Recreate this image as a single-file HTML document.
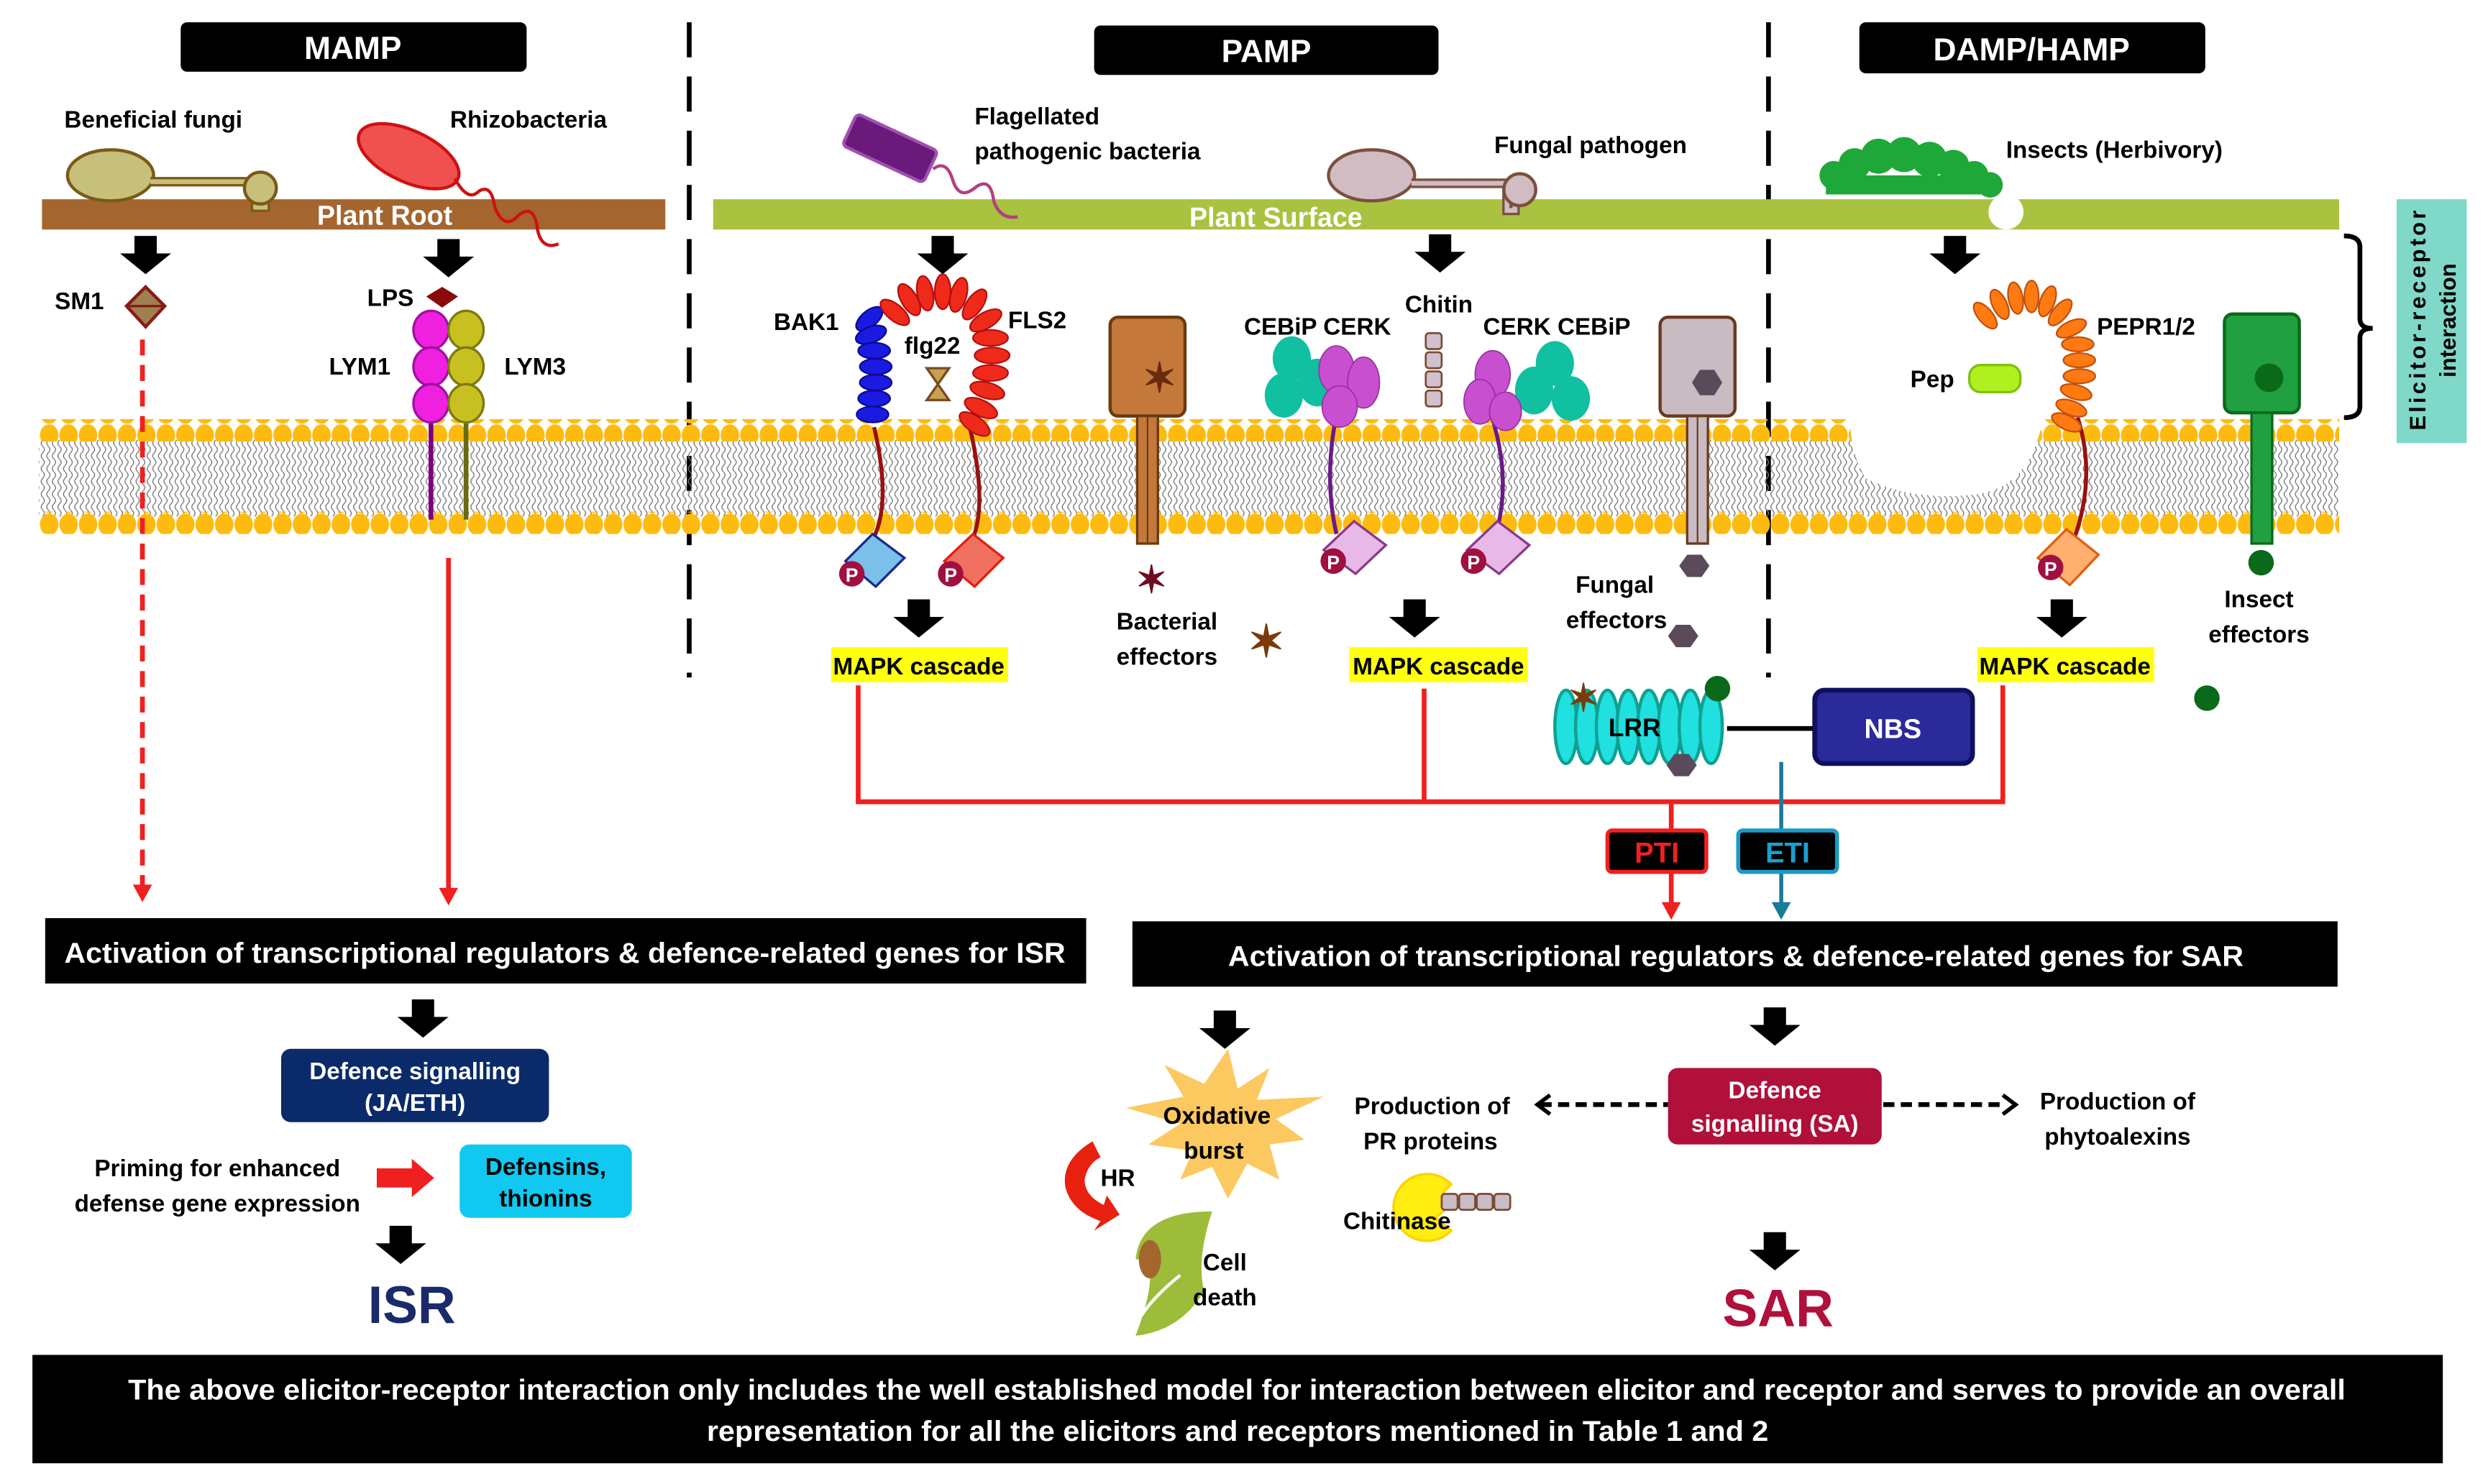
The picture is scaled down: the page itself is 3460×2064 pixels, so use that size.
<!DOCTYPE html>
<html><head><meta charset="utf-8"><style>
html,body{margin:0;padding:0;background:#fff;}
svg{display:block;}
text{font-family:"Liberation Sans",sans-serif;font-weight:bold;}
</style></head><body>
<svg width="3460" height="2064" viewBox="0 0 1560 931" xmlns="http://www.w3.org/2000/svg">
<defs>
<path id="ar" d="M-7,0 h14 v11 h9 l-16,13 l-16,-13 h9 z" fill="#000"/>
<pattern id="wv" x="0" y="0" width="7" height="8" patternUnits="userSpaceOnUse">
<path d="M2,0 q2,2 0,4 q-2,2 0,4" stroke="#777" stroke-width="0.6" fill="none"/>
<path d="M5.5,0 q2,2 0,4 q-2,2 0,4" stroke="#777" stroke-width="0.6" fill="none"/>
</pattern>
<pattern id="bd" x="0" y="0" width="12.2" height="14" patternUnits="userSpaceOnUse">
<ellipse cx="6.1" cy="7" rx="5.8" ry="6.8" fill="#fdbb10"/>
</pattern>
</defs>

<rect x="113" y="14" width="217" height="31" rx="4" fill="#000"/>
<text x="221" y="37" fill="#fff" font-size="20" text-anchor="middle">MAMP</text>
<rect x="686" y="16" width="216" height="31" rx="4" fill="#000"/>
<text x="794" y="39" fill="#fff" font-size="20" text-anchor="middle">PAMP</text>
<rect x="1166" y="14" width="217" height="32" rx="4" fill="#000"/>
<text x="1274" y="38" fill="#fff" font-size="20" text-anchor="middle">DAMP/HAMP</text>

<line x1="432" y1="14" x2="432" y2="425" stroke="#000" stroke-width="3" stroke-dasharray="22,12"/>
<line x1="1109" y1="14" x2="1109" y2="425" stroke="#000" stroke-width="3" stroke-dasharray="22,12"/>

<rect x="24" y="276" width="1443" height="48" fill="url(#wv)"/>
<rect x="24" y="263" width="1443" height="14" fill="url(#bd)"/>
<rect x="24" y="321" width="1443" height="14" fill="url(#bd)"/>
<path d="M1160,258 L1282,258 Q1275,305 1240,310 Q1200,315 1170,300 Q1160,285 1160,258 Z" fill="#fff"/>

<rect x="26" y="125" width="391" height="19" fill="#a5652f"/>
<text x="241" y="141" fill="#fff" font-size="17" text-anchor="middle">Plant Root</text>
<rect x="447" y="125" width="1020" height="19" fill="#a9c23f"/>
<text x="800" y="142" fill="#fff" font-size="17" text-anchor="middle">Plant Surface</text>

<ellipse cx="69" cy="110" rx="27" ry="16" fill="#c6c07a" stroke="#7a5a18" stroke-width="2"/>
<path d="M94,114 H160 V130 H166 V114" fill="none" stroke="#7a5a18" stroke-width="6"/>
<path d="M94,114 H160 V130 H166 V114" fill="none" stroke="#c6c07a" stroke-width="3"/>
<circle cx="163" cy="118" r="10" fill="#c6c07a" stroke="#7a5a18" stroke-width="2"/>
<ellipse cx="256" cy="98" rx="34" ry="16" transform="rotate(25 256 98)" fill="#f05050" stroke="#d01010" stroke-width="2"/>
<path d="M285,112 q8,15 15,8 q8,-5 10,10 q6,15 15,5 q10,-8 12,10 q3,12 13,8" fill="none" stroke="#d01010" stroke-width="2"/>
<rect x="530" y="82" width="56" height="22" rx="3" transform="rotate(25 558 93)" fill="#6a1a7a" stroke="#a050b0" stroke-width="2"/>
<path d="M585,106 q8,-6 12,6 q4,14 14,6 q10,-8 12,8 q4,12 15,10" fill="none" stroke="#b04080" stroke-width="2"/>
<ellipse cx="860" cy="110" rx="27" ry="16" fill="#d0bcc2" stroke="#7a5040" stroke-width="2"/>
<path d="M885,115 H945 V132 H950 V115" fill="none" stroke="#7a5040" stroke-width="6"/>
<path d="M885,115 H945 V132 H950 V115" fill="none" stroke="#d0bcc2" stroke-width="3"/>
<circle cx="953" cy="119" r="10" fill="#d0bcc2" stroke="#7a5040" stroke-width="2"/>
<g fill="#1ea83a">
<circle cx="1150" cy="110" r="9"/><circle cx="1163" cy="103" r="10"/><circle cx="1178" cy="98" r="11"/><circle cx="1194" cy="97" r="11"/><circle cx="1210" cy="100" r="11"/><circle cx="1225" cy="104" r="10"/><circle cx="1238" cy="110" r="9"/><circle cx="1248" cy="116" r="8"/>
<rect x="1145" y="110" width="108" height="12"/>
</g>
<circle cx="1258" cy="133" r="11" fill="#fff"/>

<g font-size="15" fill="#000">
<text x="40" y="80">Beneficial fungi</text>
<text x="282" y="80">Rhizobacteria</text>
<text x="611" y="78">Flagellated</text>
<text x="611" y="100">pathogenic bacteria</text>
<text x="937" y="96">Fungal pathogen</text>
<text x="1258" y="99">Insects (Herbivory)</text>
</g>

<use href="#ar" x="91" y="148"/><use href="#ar" x="281" y="150"/>
<use href="#ar" x="591" y="148"/><use href="#ar" x="903" y="147"/><use href="#ar" x="1226" y="148"/>
<use href="#ar" x="576" y="376"/><use href="#ar" x="887" y="376"/><use href="#ar" x="1293" y="376"/>
<use href="#ar" x="265" y="627"/><use href="#ar" x="251" y="769"/>
<use href="#ar" x="768" y="634"/><use href="#ar" x="1113" y="632"/><use href="#ar" x="1113" y="773"/>

<text x="34" y="194" font-size="15">SM1</text>
<path d="M91,180 L103,192 L91,205 L79,192 Z" fill="#a08050" stroke="#8a1a1a" stroke-width="2"/>
<line x1="80" y1="192" x2="102" y2="192" stroke="#8a1a1a" stroke-width="1.5"/>
<line x1="89" y1="213" x2="89" y2="558" stroke="#f02020" stroke-width="3" stroke-dasharray="10,6"/>
<path d="M83,555 L95,555 L89,566 Z" fill="#f02020"/>
<text x="230" y="192" font-size="15">LPS</text>
<path d="M277,180 L287,186 L277,193 L267,186 Z" fill="#8a0a0a"/>
<line x1="270" y1="255" x2="270" y2="326" stroke="#800080" stroke-width="3"/>
<line x1="292" y1="255" x2="292" y2="326" stroke="#6a6a10" stroke-width="3"/>
<g fill="#f020e0" stroke="#a010a0" stroke-width="1.5"><ellipse cx="270" cy="207" rx="11" ry="12"/><ellipse cx="270" cy="230" rx="11" ry="12"/><ellipse cx="270" cy="253" rx="11" ry="12"/></g>
<g fill="#c8c020" stroke="#7a7a10" stroke-width="1.5"><ellipse cx="292" cy="207" rx="11" ry="12"/><ellipse cx="292" cy="230" rx="11" ry="12"/><ellipse cx="292" cy="253" rx="11" ry="12"/></g>
<text x="206" y="235" font-size="15">LYM1</text>
<text x="316" y="235" font-size="15">LYM3</text>
<line x1="281" y1="350" x2="281" y2="560" stroke="#f02020" stroke-width="3"/>
<path d="M275,557 L287,557 L281,568 Z" fill="#f02020"/>

<path d="M548,268 Q560,320 545,342" stroke="#9a1010" stroke-width="2.5" fill="none"/>
<path d="M608,268 Q620,320 608,342" stroke="#9a1010" stroke-width="2.5" fill="none"/>
<g fill="#1a1ae0" stroke="#0a0a90" stroke-width="1">
<ellipse cx="545" cy="200" rx="10" ry="5" transform="rotate(-40 545 200)"/><ellipse cx="546" cy="210" rx="10" ry="5" transform="rotate(-20 546 210)"/><ellipse cx="548" cy="220" rx="10" ry="5"/><ellipse cx="549" cy="230" rx="10" ry="5"/><ellipse cx="549" cy="240" rx="10" ry="5"/><ellipse cx="548" cy="250" rx="10" ry="5"/><ellipse cx="547" cy="260" rx="10" ry="5"/></g>
<g fill="#f02a1a" stroke="#b01010" stroke-width="1">
<ellipse cx="561" cy="196" rx="5" ry="11" transform="rotate(-50 561 196)"/><ellipse cx="570" cy="188" rx="5" ry="11" transform="rotate(-30 570 188)"/><ellipse cx="580" cy="184" rx="5" ry="11" transform="rotate(-10 580 184)"/><ellipse cx="591" cy="183" rx="5" ry="11"/><ellipse cx="601" cy="185" rx="5" ry="11" transform="rotate(15 601 185)"/><ellipse cx="611" cy="191" rx="5" ry="11" transform="rotate(35 611 191)"/><ellipse cx="618" cy="201" rx="11" ry="5" transform="rotate(-30 618 201)"/><ellipse cx="621" cy="212" rx="11" ry="5"/><ellipse cx="622" cy="223" rx="11" ry="5"/><ellipse cx="621" cy="234" rx="11" ry="5"/><ellipse cx="619" cy="245" rx="11" ry="5" transform="rotate(15 619 245)"/><ellipse cx="615" cy="256" rx="11" ry="5" transform="rotate(25 615 256)"/><ellipse cx="611" cy="266" rx="11" ry="5" transform="rotate(35 611 266)"/></g>
<text x="485" y="207" font-size="15">BAK1</text>
<text x="567" y="222" font-size="15">flg22</text>
<text x="632" y="206" font-size="15">FLS2</text>
<path d="M581,231 H595 L588,241 L595,251 H581 L588,241 Z" fill="#c8a050" stroke="#7a4a20" stroke-width="1.5"/>
<path d="M547,335 L567,350 L549,368 L530,352 Z" fill="#7ac0e8" stroke="#1a2a90" stroke-width="1.5"/>
<path d="M610,335 L629,350 L611,368 L592,352 Z" fill="#f07060" stroke="#e02010" stroke-width="1.5"/>
<g fill="#a01040"><circle cx="534" cy="360" r="8"/><circle cx="596" cy="360" r="8"/></g>
<g fill="#fff" font-size="12" text-anchor="middle"><text x="534" y="365">P</text><text x="596" y="365">P</text></g>
<rect x="521" y="406" width="111" height="22" fill="#ffff10"/>
<text x="576" y="423" font-size="15" text-anchor="middle">MAPK cascade</text>

<rect x="696" y="199" width="47" height="62" rx="5" fill="#c4783a" stroke="#6a3a10" stroke-width="2"/>
<rect x="713" y="261" width="13" height="80" fill="#c4783a" stroke="#6a3a10" stroke-width="1.5"/>
<line x1="719.5" y1="261" x2="719.5" y2="341" stroke="#6a3a10" stroke-width="1"/>
<text x="727" y="246" font-size="26" fill="#6a2a10" text-anchor="middle">✶</text>
<text x="722" y="372" font-size="24" fill="#700a20" text-anchor="middle">✶</text>
<text x="794" y="412" font-size="28" fill="#7a3a0a" text-anchor="middle">✶</text>
<text x="700" y="395" font-size="15">Bacterial</text>
<text x="700" y="417" font-size="15">effectors</text>

<path d="M838,260 Q830,300 838,335" stroke="#6a1a8a" stroke-width="2.5" fill="none"/>
<path d="M935,260 Q948,300 938,335" stroke="#6a1a8a" stroke-width="2.5" fill="none"/>
<g fill="#10c0a0"><ellipse cx="810" cy="225" rx="12" ry="14"/><ellipse cx="805" cy="248" rx="12" ry="14"/><ellipse cx="826" cy="240" rx="12" ry="15"/><ellipse cx="975" cy="228" rx="12" ry="14"/><ellipse cx="985" cy="250" rx="12" ry="14"/><ellipse cx="962" cy="245" rx="12" ry="15"/></g>
<g fill="#c850d0" stroke="#9a30a0" stroke-width="0.8"><ellipse cx="838" cy="232" rx="11" ry="15"/><ellipse cx="855" cy="240" rx="10" ry="16"/><ellipse cx="840" cy="255" rx="11" ry="13"/><ellipse cx="936" cy="235" rx="11" ry="15"/><ellipse cx="928" cy="252" rx="10" ry="14"/><ellipse cx="944" cy="258" rx="10" ry="12"/></g>
<g fill="#d0c0d0" stroke="#7a4a30" stroke-width="1.2"><rect x="894" y="209" width="10" height="10" rx="2"/><rect x="894" y="221" width="10" height="10" rx="2"/><rect x="894" y="233" width="10" height="10" rx="2"/><rect x="894" y="245" width="10" height="10" rx="2"/></g>
<text x="780" y="210" font-size="15">CEBiP CERK</text>
<text x="881" y="196" font-size="15">Chitin</text>
<text x="930" y="210" font-size="15">CERK CEBiP</text>
<path d="M849,327 L869,342 L850,360 L830,345 Z" fill="#e8b8e8" stroke="#8a3a8a" stroke-width="1.5"/>
<path d="M939,327 L959,342 L940,360 L920,345 Z" fill="#e8b8e8" stroke="#8a3a8a" stroke-width="1.5"/>
<g fill="#a01040"><circle cx="836" cy="352" r="8"/><circle cx="924" cy="352" r="8"/></g>
<g fill="#fff" font-size="12" text-anchor="middle"><text x="836" y="357">P</text><text x="924" y="357">P</text></g>
<rect x="846" y="406" width="112" height="22" fill="#ffff10"/>
<text x="902" y="423" font-size="15" text-anchor="middle">MAPK cascade</text>

<rect x="1041" y="199" width="47" height="62" rx="5" fill="#c8bcc2" stroke="#6a3a20" stroke-width="2"/>
<rect x="1058" y="261" width="13" height="80" fill="#c8bcc2" stroke="#6a3a20" stroke-width="1.5"/>
<line x1="1064.5" y1="261" x2="1064.5" y2="341" stroke="#6a3a20" stroke-width="1"/>
<path d="M1066,232 l9,0 l5,8 l-5,8 l-9,0 l-5,-8 z" fill="#5a4a5a"/>
<path d="M1058,348 l9,0 l5,7 l-5,7 l-9,0 l-5,-7 z" fill="#5a4a5a"/>
<path d="M1051,392 l9,0 l5,7 l-5,7 l-9,0 l-5,-7 z" fill="#5a4a5a"/>
<text x="988" y="372" font-size="15">Fungal</text>
<text x="982" y="394" font-size="15">effectors</text>

<g fill="#20e0e0" stroke="#10a090" stroke-width="2"><ellipse cx="982" cy="456" rx="7" ry="23"/><ellipse cx="995" cy="456" rx="7" ry="23"/><ellipse cx="1008" cy="456" rx="7" ry="23"/><ellipse cx="1021" cy="456" rx="7" ry="23"/><ellipse cx="1034" cy="456" rx="7" ry="23"/><ellipse cx="1047" cy="456" rx="7" ry="23"/><ellipse cx="1060" cy="456" rx="7" ry="23"/><ellipse cx="1073" cy="456" rx="7" ry="23"/></g>
<text x="1025" y="462" font-size="16" text-anchor="middle">LRR</text>
<text x="993" y="446" font-size="24" fill="#7a3a0a" text-anchor="middle">✶</text>
<path d="M1050,473 l9,0 l5,7 l-5,7 l-9,0 l-5,-7 z" fill="#5a4a5a"/>
<circle cx="1077" cy="432" r="8" fill="#0a6a1a"/>
<line x1="1083" y1="457" x2="1138" y2="457" stroke="#000" stroke-width="3"/>
<rect x="1138" y="433" width="99" height="46" rx="6" fill="#2a2a9a" stroke="#101060" stroke-width="3"/>
<text x="1187" y="463" font-size="17" fill="#fff" text-anchor="middle">NBS</text>

<path d="M1303,262 Q1315,300 1300,340" stroke="#9a1010" stroke-width="2.5" fill="none"/>
<g fill="#ff7a10" stroke="#c05010" stroke-width="1">
<ellipse cx="1245" cy="198" rx="4.5" ry="10" transform="rotate(-40 1245 198)"/><ellipse cx="1254" cy="191" rx="4.5" ry="10" transform="rotate(-25 1254 191)"/><ellipse cx="1264" cy="187" rx="4.5" ry="10" transform="rotate(-10 1264 187)"/><ellipse cx="1274" cy="186" rx="4.5" ry="10"/><ellipse cx="1284" cy="189" rx="4.5" ry="10" transform="rotate(20 1284 189)"/><ellipse cx="1292" cy="196" rx="4.5" ry="10" transform="rotate(40 1292 196)"/><ellipse cx="1299" cy="206" rx="10" ry="4.5" transform="rotate(-25 1299 206)"/><ellipse cx="1303" cy="216" rx="10" ry="4.5"/><ellipse cx="1304" cy="226" rx="10" ry="4.5"/><ellipse cx="1304" cy="236" rx="10" ry="4.5"/><ellipse cx="1302" cy="246" rx="10" ry="4.5" transform="rotate(15 1302 246)"/><ellipse cx="1299" cy="256" rx="10" ry="4.5" transform="rotate(20 1299 256)"/><ellipse cx="1296" cy="265" rx="10" ry="4.5" transform="rotate(25 1296 265)"/></g>
<text x="1315" y="210" font-size="15">PEPR1/2</text>
<text x="1198" y="243" font-size="15">Pep</text>
<rect x="1235" y="229" width="32" height="17" rx="7" fill="#b0f020" stroke="#80c010" stroke-width="1.5"/>
<path d="M1296,332 L1316,348 L1298,367 L1278,350 Z" fill="#ffb070" stroke="#e06010" stroke-width="1.5"/>
<circle cx="1286" cy="356" r="8" fill="#a01040"/>
<text x="1286" y="361" font-size="12" fill="#fff" text-anchor="middle">P</text>
<rect x="1240" y="406" width="111" height="22" fill="#ffff10"/>
<text x="1295" y="423" font-size="15" text-anchor="middle">MAPK cascade</text>

<rect x="1395" y="197" width="47" height="62" rx="5" fill="#20a040" stroke="#0a6a1a" stroke-width="2"/>
<rect x="1412" y="259" width="13" height="82" fill="#20a040" stroke="#0a6a1a" stroke-width="1.5"/>
<circle cx="1423" cy="237" r="9" fill="#0a6a1a"/>
<circle cx="1418" cy="353" r="8" fill="#0a6a1a"/>
<circle cx="1384" cy="438" r="8" fill="#0a6a1a"/>
<text x="1395" y="381" font-size="15">Insect</text>
<text x="1385" y="403" font-size="15">effectors</text>

<path d="M1470,148 Q1480,148 1480,155 V200 Q1480,206 1488,206 Q1480,206 1480,212 V255 Q1480,262 1470,262" fill="none" stroke="#000" stroke-width="3"/>
<rect x="1503" y="125" width="44" height="153" fill="#80d8c8"/>
<text transform="translate(1521,201) rotate(-90)" font-size="14" text-anchor="middle" textLength="138">Elicitor-receptor</text>
<text transform="translate(1540,201) rotate(-90)" font-size="14" text-anchor="middle">interaction</text>

<g stroke="#f02020" stroke-width="3" fill="none">
<path d="M538,430 V503 H1256 V430"/>
<path d="M893,432 V503"/>
<path d="M1048,503 V568"/>
</g>
<path d="M1042,566 L1054,566 L1048,577 Z" fill="#f02020"/>
<line x1="1117" y1="478" x2="1117" y2="568" stroke="#1a7a9a" stroke-width="2.5"/>
<path d="M1111,566 L1123,566 L1117,577 Z" fill="#1a7a9a"/>
<rect x="1008" y="521" width="62" height="26" rx="3" fill="#000" stroke="#f02020" stroke-width="2.5"/>
<text x="1039" y="541" font-size="18" fill="#f02020" text-anchor="middle">PTI</text>
<rect x="1090" y="521" width="62" height="26" rx="3" fill="#000" stroke="#1a9ac8" stroke-width="2.5"/>
<text x="1121" y="541" font-size="18" fill="#1aa0d0" text-anchor="middle">ETI</text>

<rect x="28" y="576" width="653" height="41" fill="#000"/>
<text x="40" y="604" font-size="18" fill="#fff" textLength="628" lengthAdjust="spacingAndGlyphs">Activation of  transcriptional regulators &amp; defence-related genes for ISR</text>
<rect x="710" y="578" width="756" height="41" fill="#000"/>
<text x="770" y="606" font-size="18" fill="#fff" textLength="637" lengthAdjust="spacingAndGlyphs">Activation of  transcriptional regulators &amp; defence-related genes for SAR</text>

<rect x="176" y="658" width="168" height="46" rx="6" fill="#0a2a6a"/>
<text x="260" y="677" font-size="15" fill="#fff" text-anchor="middle">Defence signalling</text>
<text x="260" y="697" font-size="15" fill="#fff" text-anchor="middle">(JA/ETH)</text>
<text x="136" y="738" font-size="15" text-anchor="middle">Priming for enhanced</text>
<text x="136" y="760" font-size="15" text-anchor="middle">defense gene expression</text>
<path d="M236,733 H258 V727 L272,739 L258,751 V745 H236 Z" fill="#f02020"/>
<rect x="288" y="718" width="108" height="46" rx="6" fill="#10c8f0"/>
<text x="342" y="737" font-size="15" text-anchor="middle">Defensins,</text>
<text x="342" y="757" font-size="15" text-anchor="middle">thionins</text>
<text x="258" y="830" font-size="33" fill="#1a2a6a" text-anchor="middle">ISR</text>

<path d="M770,658 L776,683 L796,670 L788,690 L830,688 L800,702 L818,715 L796,718 L802,740 L782,730 L770,752 L760,732 L740,740 L748,722 L720,718 L740,705 L706,695 L742,688 L730,668 L755,680 Z" fill="#fcc860"/>
<text x="763" y="705" font-size="15" text-anchor="middle">Oxidative</text>
<text x="761" y="727" font-size="15" text-anchor="middle">burst</text>
<path d="M685,716 Q665,728 668,745 Q672,760 690,766 L686,772 L702,762 L694,750 L692,756 Q680,750 680,740 Q682,730 690,726 Z" fill="#e82010"/>
<text x="690" y="744" font-size="15">HR</text>
<path d="M712,838 Q730,790 712,790 Q715,760 760,760 Q750,790 755,810 Q740,835 712,838 Z" fill="#9cbc3a"/>
<path d="M708,840 Q715,820 740,800" stroke="#fff" stroke-width="2" fill="none"/>
<ellipse cx="721" cy="790" rx="7" ry="12" fill="#a5652f"/>
<text x="768" y="797" font-size="15" text-anchor="middle">Cell</text>
<text x="768" y="819" font-size="15" text-anchor="middle">death</text>
<text x="898" y="699" font-size="15" text-anchor="middle">Production of</text>
<text x="897" y="721" font-size="15" text-anchor="middle">PR proteins</text>
<path d="M905,748 L910,743 A21,21 0 1 0 910,772 L900,764 L905,760 Z" fill="#ffee10" stroke="#ffd000" stroke-width="1.5"/>
<g fill="#c8bcc8" stroke="#7a4a30" stroke-width="1.2"><rect x="904" y="749" width="10" height="10" rx="2"/><rect x="915" y="749" width="10" height="10" rx="2"/><rect x="926" y="749" width="10" height="10" rx="2"/><rect x="937" y="749" width="10" height="10" rx="2"/></g>
<text x="876" y="771" font-size="15" text-anchor="middle">Chitinase</text>
<line x1="966" y1="693" x2="1046" y2="693" stroke="#000" stroke-width="3" stroke-dasharray="7,4"/>
<path d="M972,687 L964,693 L972,699" fill="none" stroke="#000" stroke-width="2.5"/>
<line x1="1181" y1="693" x2="1258" y2="693" stroke="#000" stroke-width="3" stroke-dasharray="7,4"/>
<path d="M1256,687 L1264,693 L1256,699" fill="none" stroke="#000" stroke-width="2.5"/>
<rect x="1046" y="670" width="134" height="48" rx="6" fill="#b0103a"/>
<text x="1113" y="689" font-size="15" fill="#fff" text-anchor="middle">Defence</text>
<text x="1113" y="710" font-size="15" fill="#fff" text-anchor="middle">signalling (SA)</text>
<text x="1328" y="696" font-size="15" text-anchor="middle">Production of</text>
<text x="1328" y="718" font-size="15" text-anchor="middle">phytoalexins</text>
<text x="1115" y="832" font-size="33" fill="#b0103a" text-anchor="middle">SAR</text>

<rect x="20" y="850" width="1512" height="68" fill="#000"/>
<text x="80" y="878" font-size="18" fill="#fff" textLength="1391" lengthAdjust="spacingAndGlyphs">The above elicitor-receptor interaction only includes the well established model for interaction between elicitor and receptor and serves to provide an overall</text>
<text x="443" y="904" font-size="18" fill="#fff" textLength="666" lengthAdjust="spacingAndGlyphs">representation for all the elicitors and receptors mentioned in Table 1 and 2</text>
</svg>
</body></html>
